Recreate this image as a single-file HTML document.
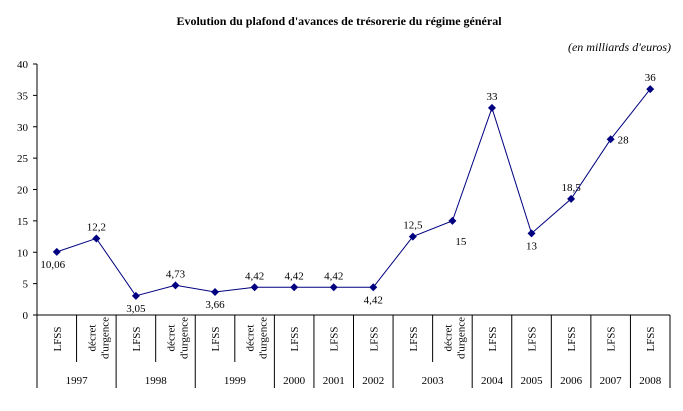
<!DOCTYPE html>
<html><head><meta charset="utf-8"><style>
body{margin:0;background:#fff;width:683px;height:406px;overflow:hidden}
svg{font-family:"Liberation Serif",serif;font-size:11px}
</style></head><body>
<svg id="c" width="683" height="406">
<text x="339" y="25" text-anchor="middle" font-weight="bold" font-size="12">Evolution du plafond d'avances de trésorerie du régime général</text>
<text x="671" y="51" text-anchor="end" font-style="italic" font-size="12">(en milliards d'euros)</text>
<g id="g"></g>
</svg>
<script>
const subs=["LFSS","décret d'urgence","LFSS","décret d'urgence","LFSS","décret d'urgence","LFSS","LFSS","LFSS","LFSS","décret d'urgence","LFSS","LFSS","LFSS","LFSS","LFSS"];
const years=["1997","1997","1998","1998","1999","1999","2000","2001","2002","2003","2003","2004","2005","2006","2007","2008"];
const values=[10.06,12.2,3.05,4.73,3.66,4.42,4.42,4.42,4.42,12.5,15,33,13,18.5,28,36];
const valueLabels=["10,06","12,2","3,05","4,73","3,66","4,42","4,42","4,42","4,42","12,5","15","33","13","18,5","28","36"];
const labelPos=["bl","a","b","a","b","a","a","a","b","a","br","a","b","a","r","a"];
const yTicks=[0,5,10,15,20,25,30,35,40];
const X0=37,X1=670,Y0=315,Y1=64,YMAX=40;
const cw=(X1-X0)/values.length;
const xs=i=>X0+cw*(i+0.5);
const ys=v=>Y0-(v/YMAX)*(Y0-Y1);
const g=document.getElementById('g');
const NS='http://www.w3.org/2000/svg';
function mk(t,a,txt){const e=document.createElementNS(NS,t);for(const k in a)e.setAttribute(k,a[k]);if(txt!=null)e.textContent=txt;g.appendChild(e);return e;}
let e;
e=mk('line',{x1:X0,y1:Y1,x2:X0,y2:Y0,stroke:'#000'});


e=mk('line',{x1:X0,y1:Y0,x2:X1,y2:Y0,stroke:'#000'});


yTicks.forEach(t=>{
 mk('line',{x1:X0-4,y1:ys(t),x2:X0,y2:ys(t),stroke:'#000'});
 e=mk('text',{x:X0-9,y:ys(t)+4,'text-anchor':'end'},t);
 
 
});
// category separators
for(let i=0;i<=values.length;i++){
 const x=X0+cw*i;
 const yearBoundary=(i==0||i==values.length||years[i]!==years[i-1]);
 mk('line',{x1:x,y1:Y0,x2:x,y2:yearBoundary?388:362,stroke:'#000'});
}
subs.forEach((s,i)=>{
 const x=xs(i);
 if(s==="LFSS"){
  e=mk('text',{transform:`translate(${x+4},339) rotate(-90)`,'text-anchor':'middle'},s);
 } else {
  e=mk('text',{transform:`translate(${x-1},338) rotate(-90)`,'text-anchor':'middle'},"décret");
  e=mk('text',{transform:`translate(${x+12},338) rotate(-90)`,'text-anchor':'middle'},"d'urgence");
 }
 
 
});
// year labels
let s=0;
for(let i=1;i<=years.length;i++){
 if(i==years.length||years[i]!==years[s]){
  const cx=(xs(s)+xs(i-1))/2;
  e=mk('text',{x:cx,y:384,'text-anchor':'middle'},years[s]);
  
  
  s=i;
 }
}
e=mk('polyline',{points:values.map((v,i)=>xs(i)+','+ys(v)).join(' '),fill:'none',stroke:'#000080','stroke-width':1});


values.forEach((v,i)=>{
 const x=xs(i),y=ys(v);
 e=mk('polygon',{points:`${x},${y-4} ${x+4},${y} ${x},${y+4} ${x-4},${y}`,fill:'#000080'});
 
 
 const p=labelPos[i];let lx=x,ly=y,an='middle';
 if(p=='a'){ly=y-8;}
 else if(p=='b'){ly=y+16;}
 else if(p=='bl'){lx=x-4;ly=y+16;}
 else if(p=='br'){lx=x+3;ly=y+24;an='start';}
 else if(p=='r'){lx=x+7;ly=y+4;an='start';}
 e=mk('text',{x:lx,y:ly,'text-anchor':an},valueLabels[i]);
 
 
});
</script>
</body></html>
